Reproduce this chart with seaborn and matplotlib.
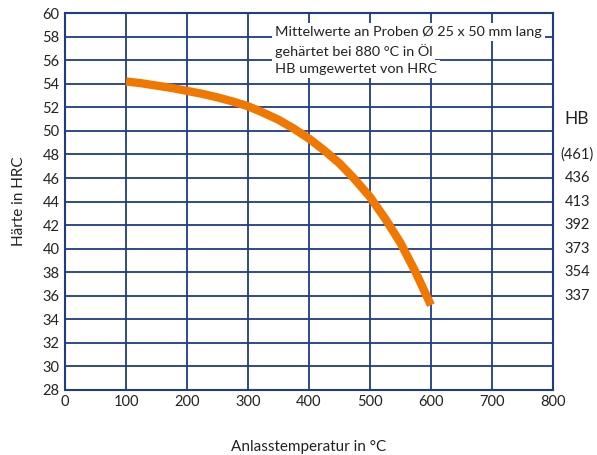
import numpy as np
import pandas as pd
import matplotlib
matplotlib.use("Agg")
import matplotlib.pyplot as plt
import matplotlib.transforms as mtransforms
import seaborn as sns

# Anlasskurve (alle 25 °C)
temperatur = [100, 125, 150, 175, 200, 225, 250, 275, 300, 325, 350,
              375, 400, 425, 450, 475, 500, 525, 550, 575, 600]
haerte_hrc = [54.2, 54.05, 53.85, 53.65, 53.4, 53.15, 52.85, 52.5, 52.1, 51.55, 50.95,
              50.2, 49.35, 48.35, 47.25, 45.9, 44.4, 42.55, 40.5, 38.0, 35.2]

# HB-Skala rechts
hb_labels = ["(461)", "436", "413", "392", "373", "354", "337"]
hb_hrc = [48, 46, 44, 42, 40, 38, 36]

hinweis = ["Mittelwerte an Proben Ø 25 x 50 mm lang",
           "gehärtet bei 880 °C in Öl",
           "HB umgewertet von HRC"]

blau = "#1f3c88"
orange = "#f07800"

sns.set_theme(style="white")
plt.rcParams["font.family"] = ["Lato", "DejaVu Sans"]

df = pd.DataFrame({"T": temperatur, "HRC": haerte_hrc})

fig = plt.figure(figsize=(5.97, 4.55), dpi=100)
ax = fig.add_axes([0.109, 0.143, 0.817, 0.828])

ax.set_xlim(0, 800)
ax.set_ylim(28, 60)
ax.set_xticks(np.arange(0, 801, 100))
ax.set_yticks(np.arange(28, 61, 2))
ax.grid(True, color=blau, linewidth=1.3)
ax.set_axisbelow(True)
for s in ax.spines.values():
    s.set_color(blau)
    s.set_linewidth(1.5)
ax.tick_params(length=0, labelsize=10.5, colors="#222222", pad=4)

sns.lineplot(data=df, x="T", y="HRC", ax=ax, color=orange, linewidth=6,
             solid_capstyle="butt", solid_joinstyle="round", zorder=3)

ax.set_xlabel("Anlasstemperatur in °C", fontsize=11, color="#222222", labelpad=22)
ax.set_ylabel("Härte in HRC", fontsize=11, color="#222222", labelpad=12)

# jede Zeile mit eigenem weissen Hintergrund
for i, zeile in enumerate(hinweis):
    ax.text(0.4303, 0.9496 - i * 0.049, zeile, transform=ax.transAxes,
            ha="left", va="center", fontsize=10.4, color="#222222", zorder=4,
            bbox=dict(boxstyle="square,pad=0.2", facecolor="white", edgecolor="none"))

trans = mtransforms.blended_transform_factory(ax.transAxes, ax.transData)
ax.text(1.023, 51, "HB", transform=trans, ha="left", va="center", fontsize=12.5, color="#222222")
for lab, y in zip(hb_labels, hb_hrc):
    ax.text(1.05, y, lab, transform=trans, ha="center", va="center", fontsize=10.5, color="#222222")

fig.savefig("out.png", dpi=100)
